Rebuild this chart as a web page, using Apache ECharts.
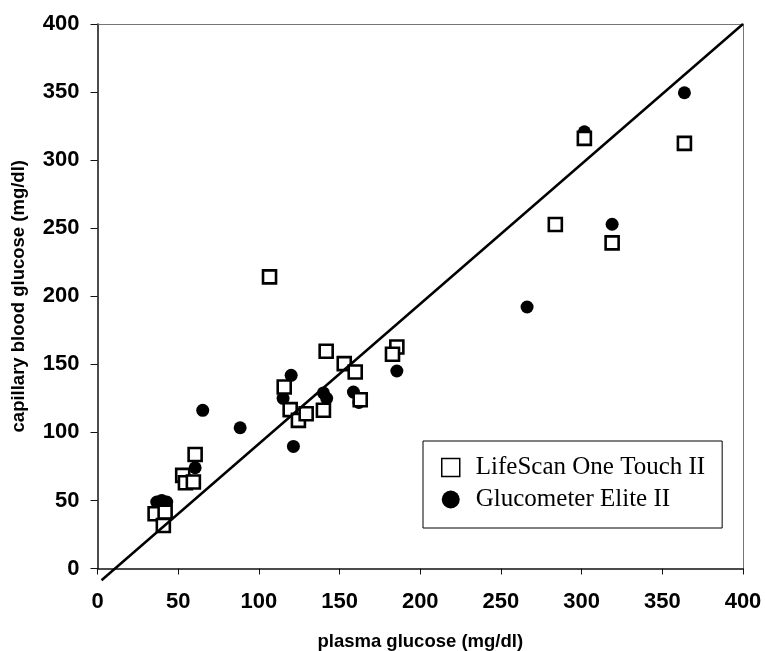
<!DOCTYPE html>
<html><head><meta charset="utf-8">
<script src="https://cdn.jsdelivr.net/npm/echarts@6/dist/echarts.min.js"></script>
<style>html,body{margin:0;padding:0;background:#fff}#c{width:765px;height:651px}</style>
</head><body><div id="c"></div>
<script>
// LifeScan One Touch II (hollow squares)
const lifeScanX = [35.7, 41.9, 40.8, 52.8, 54.5, 59.4, 60.5, 106.6, 115.7, 119.4, 124.5, 129.3, 140.0, 141.7, 152.9, 159.7, 162.8, 185.5, 182.8, 283.7, 301.7, 318.9, 363.7];
const lifeScanY = [40.2, 41.4, 31.6, 68.4, 63.0, 63.5, 83.8, 214.2, 133.3, 116.7, 108.8, 113.7, 116.2, 159.6, 150.5, 144.3, 124.0, 162.7, 157.4, 252.7, 316.0, 239.2, 312.3];
// Glucometer Elite II (filled circles)
const eliteX = [36.7, 39.8, 42.9, 60.5, 65.2, 88.4, 121.4, 120.0, 115.0, 140.0, 142.0, 158.6, 162.0, 185.5, 266.2, 301.7, 318.9, 363.7];
const eliteY = [48.8, 50.0, 48.8, 74.0, 116.2, 103.4, 89.7, 141.9, 125.0, 129.0, 125.0, 129.6, 122.0, 145.1, 192.1, 320.8, 252.9, 349.5];
// regression line end points
const lineX = [2.5, 400];
const lineY = [-8.6, 400];

const seriesNames = ['LifeScan One Touch II', 'Glucometer Elite II'];
const xTitle = 'plasma glucose (mg/dl)';
const yTitle = 'capillary blood glucose (mg/dl)';

const zip = (a, b) => a.map((v, i) => [v, b[i]]);
const sans = 'Liberation Sans, Arial, sans-serif';

const chart = echarts.init(document.getElementById('c'));
chart.setOption({
  animation: false,
  backgroundColor: '#fff',
  grid: { left: 97.5, right: 22, top: 24, bottom: 82.5, containLabel: false, outerBoundsMode: 'none' },
  legend: {
    orient: 'vertical', left: 423, top: 441,
    padding: [14, 17, 16, 18], itemGap: 7, itemWidth: 18, itemHeight: 18,
    backgroundColor: '#fff', borderColor: '#000', borderWidth: 1,
    selectedMode: false,
    textStyle: { fontFamily: 'Liberation Serif, Times New Roman, serif', fontSize: 25, color: '#000', padding: [0, 0, 0, 11] },
    data: [
      { name: seriesNames[0], icon: 'rect', itemStyle: { color: '#fff', borderColor: '#000', borderWidth: 1.5 } },
      { name: seriesNames[1], icon: 'circle', itemStyle: { color: '#000' } }
    ]
  },
  xAxis: [{
    type: 'value', min: 0, max: 400, interval: 50,
    axisLine: { show: true, onZero: false, lineStyle: { color: '#111', width: 1.5 } },
    axisTick: { show: true, length: 6, lineStyle: { color: '#111', width: 1 } },
    splitLine: { show: false },
    axisLabel: { fontFamily: sans, fontSize: 22, fontWeight: 'bold', color: '#000', margin: 22 },
    name: xTitle, nameLocation: 'middle', nameGap: 64,
    nameTextStyle: { fontFamily: sans, fontSize: 18.5, fontWeight: 'bold', color: '#000' }
  }, {
    type: 'value', position: 'top', min: 0, max: 400,
    axisLine: { show: true, onZero: false, lineStyle: { color: '#666', width: 1, type: 'dotted' } },
    axisTick: { show: false }, axisLabel: { show: false }, splitLine: { show: false }
  }],
  yAxis: [{
    type: 'value', min: 0, max: 400, interval: 50,
    axisLine: { show: true, onZero: false, lineStyle: { color: '#111', width: 1.5 } },
    axisTick: { show: true, length: 7, lineStyle: { color: '#111', width: 1 } },
    splitLine: { show: false },
    axisLabel: { fontFamily: sans, fontSize: 22, fontWeight: 'bold', color: '#000', margin: 18 },
    name: yTitle, nameLocation: 'middle', nameGap: 69,
    nameTextStyle: { fontFamily: sans, fontSize: 18.5, fontWeight: 'bold', color: '#000' }
  }, {
    type: 'value', position: 'right', min: 0, max: 400,
    axisLine: { show: true, onZero: false, lineStyle: { color: '#666', width: 1, type: 'dotted' } },
    axisTick: { show: false }, axisLabel: { show: false }, splitLine: { show: false }
  }],
  series: [{
    name: seriesNames[1], type: 'scatter', symbol: 'circle', symbolSize: 13, z: 2,
    itemStyle: { color: '#000', opacity: 1 },
    data: zip(eliteX, eliteY)
  }, {
    name: seriesNames[0], type: 'scatter', symbol: 'rect', symbolSize: 13, z: 3,
    itemStyle: { color: '#fff', borderColor: '#000', borderWidth: 2.6, opacity: 1 },
    data: zip(lifeScanX, lifeScanY)
  }, {
    name: 'fit', type: 'line', showSymbol: false, clip: false, z: 4, silent: true,
    lineStyle: { color: '#000', width: 2.5 },
    data: zip(lineX, lineY)
  }]
});
</script></body></html>
